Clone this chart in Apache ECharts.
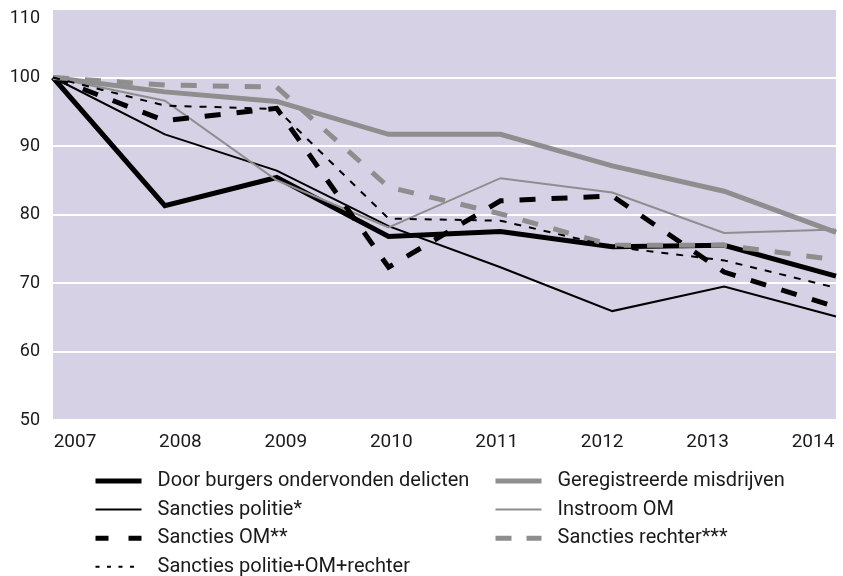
<!DOCTYPE html>
<html><head><meta charset="utf-8">
<script src="https://cdn.jsdelivr.net/npm/echarts@6/dist/echarts.min.js"></script>
<style>html,body{margin:0;padding:0;background:#fff}#c{width:843px;height:576px}</style>
</head><body><div id="c"></div>
<script>
const years = ['2007','2008','2009','2010','2011','2012','2013','2014'];
const yTicks = [50, 60, 70, 80, 90, 100, 110];
const burgers = [100, 81.3, 85.4, 76.8, 77.5, 75.3, 75.5, 71.0];
const geregistreerd = [100, 97.9, 96.5, 91.7, 91.7, 87.1, 83.4, 77.4];
const politie = [100, 91.7, 86.4, 78.3, 72.3, 65.9, 69.5, 65.1];
const instroomOM = [100, 96.6, 85.0, 78.1, 85.3, 83.2, 77.3, 77.8];
const sanctiesOM = [100, 93.7, 95.5, 72.3, 82.0, 82.7, 71.6, 66.5];
const rechter = [100, 98.9, 98.6, 84.0, 80.1, 75.5, 75.5, 73.4];
const totaal = [100, 95.9, 95.4, 79.4, 79.1, 75.3, 73.3, 69.3];

const names = ['Door burgers ondervonden delicten','Geregistreerde misdrijven','Sancties politie*','Instroom OM','Sancties OM**','Sancties rechter***','Sancties politie+OM+rechter'];
const FONT = 'Roboto, "Liberation Sans", sans-serif';
const BLACK = '#000000', GRAY = '#8e8e8e';
const styles = [
  { color: BLACK, width: 5, type: 'solid', legendType: 'solid' },
  { color: GRAY, width: 5, type: 'solid', legendType: 'solid' },
  { color: BLACK, width: 2, type: 'solid', legendType: 'solid' },
  { color: GRAY, width: 2, type: 'solid', legendType: 'solid' },
  { color: BLACK, width: 5, type: [16, 16], legendType: [13, 20] },
  { color: GRAY, width: 5, type: [16, 16], legendType: [16, 15] },
  { color: BLACK, width: 2, type: [7, 8], legendType: [4, 7.5] }
];
const seriesData = [burgers, geregistreerd, politie, instroomOM, sanctiesOM, rechter, totaal];

function legendItem(i) {
  return { name: names[i], lineStyle: { color: styles[i].color, width: styles[i].width, type: styles[i].legendType, cap: 'butt' } };
}

const chart = echarts.init(document.getElementById('c'), null, { renderer: 'canvas' });
const legendCommon = {
  type: 'plain', orient: 'vertical', itemWidth: 46, itemHeight: 14, itemGap: 8.6,
  padding: 0, height: 112, selectedMode: false,
  itemStyle: { opacity: 0, borderWidth: 0 },
  textStyle: { fontFamily: FONT, fontSize: 20, color: '#1a1a1a', lineHeight: 20, padding: [0, 0, 0, 11] }
};
chart.setOption({
  animation: false,
  grid: [
    { left: 53, right: 7, top: 9, bottom: 156, show: true, backgroundColor: '#d6d1e5', borderWidth: 0 },
    { left: 75, right: 30, top: 9, bottom: 156, show: false }
  ],
  legend: [
    Object.assign({}, legendCommon, { left: 93, top: 471, data: [0, 2, 4, 6].map(legendItem) }),
    Object.assign({}, legendCommon, { left: 493, top: 471, data: [1, 3, 5].map(legendItem) })
  ],
  xAxis: [
    { type: 'category', gridIndex: 0, data: years, boundaryGap: false,
      axisLine: { show: false }, axisTick: { show: false }, axisLabel: { show: false }, splitLine: { show: false } },
    { type: 'category', gridIndex: 1, data: years, boundaryGap: false,
      axisLine: { show: false }, axisTick: { show: false }, splitLine: { show: false },
      axisLabel: { fontFamily: FONT, fontSize: 19, color: '#1a1a1a', margin: 13, interval: 0 } }
  ],
  yAxis: [
    { type: 'value', gridIndex: 0, min: yTicks[0], max: yTicks[yTicks.length - 1], interval: 10,
      axisLine: { show: false }, axisTick: { show: false },
      splitLine: { show: true, lineStyle: { color: '#ffffff', width: 2 } },
      axisLabel: { fontFamily: FONT, fontSize: 18, color: '#1a1a1a', margin: 13,
        verticalAlignMaxLabel: 'top' } },
    { type: 'value', gridIndex: 1, show: false, min: 0, max: 1 }
  ],
  series: seriesData.map((d, i) => ({
    name: names[i], type: 'line', data: d, xAxisIndex: 0, yAxisIndex: 0,
    symbol: 'none', showSymbol: false, silent: true, animation: false,
    lineStyle: { color: styles[i].color, width: styles[i].width, type: styles[i].type, cap: 'butt', join: 'miter' },
    itemStyle: { color: styles[i].color }
  }))
});
</script></body></html>
